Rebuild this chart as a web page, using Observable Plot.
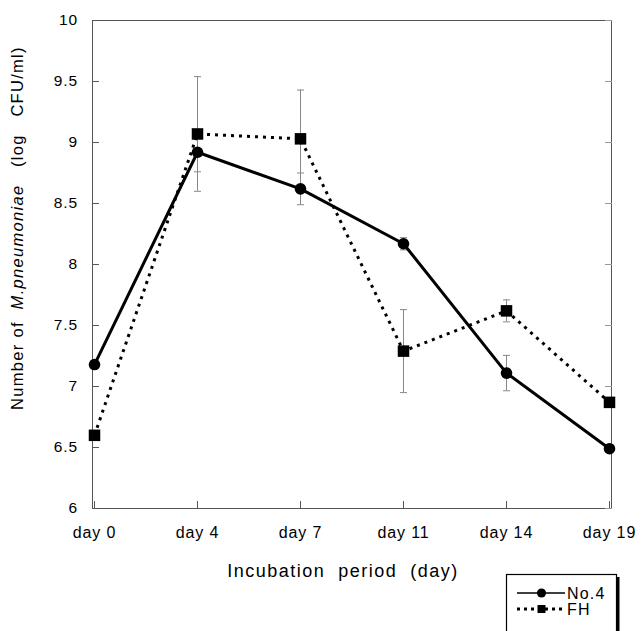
<!DOCTYPE html>
<html>
<head>
<meta charset="utf-8">
<script src="https://cdn.jsdelivr.net/npm/d3@7"></script>
<script src="https://cdn.jsdelivr.net/npm/@observablehq/plot@0.6"></script>
<style>
  html, body { margin: 0; padding: 0; background: #fff; }
  #chart svg { display: block; }
</style>
</head>
<body>
<div id="chart"></div>
<script>
// ---- data ----
const days = ["day 0", "day 4", "day 7", "day 11", "day 14", "day 19"];
const no4Values = [7.18, 8.92, 8.62, 8.17, 7.11, 6.49];
const no4Errors = [0, 0.16, 0.13, 0.05, 0.145, 0];
const fhValues = [6.60, 9.07, 9.03, 7.29, 7.62, 6.87];
const fhErrors = [0, 0.47, 0.40, 0.34, 0.09, 0];
const yTicks = [6, 6.5, 7, 7.5, 8, 8.5, 9, 9.5, 10];
const seriesNames = ["No.4", "FH"];
const xTitle = "Incubation  period  (day)";
const yTitleParts = [["Number of  ", "normal"], ["M.pneumoniae", "italic"], ["   (log   CFU/ml)", "normal"]];

const no4 = days.map((d, i) => ({day: d, v: no4Values[i], e: no4Errors[i]}));
const fh = days.map((d, i) => ({day: d, v: fhValues[i], e: fhErrors[i]}));
const errs = [...no4, ...fh].filter(d => d.e > 0);

const capSymbol = {draw(ctx) { ctx.moveTo(-3.5, 0); ctx.lineTo(3.5, 0); }};
const font = "Liberation Sans, Arial, Helvetica, sans-serif";

const plot = Plot.plot({
  width: 641,
  height: 631,
  marginLeft: 92,
  marginRight: 30,
  marginTop: 20,
  marginBottom: 123,
  style: {fontFamily: font, fontSize: "15px", color: "black", background: "white"},
  x: {type: "point", domain: days, padding: 0},
  y: {domain: [6, 10]},
  marks: [
    Plot.frame({stroke: "#555"}),
    Plot.axisY({ticks: yTicks, tickSize: -7, tickPadding: 21.5, tickFormat: d => String(d), label: null, stroke: "#555", fontSize: 15.5}),
    Plot.axisY({anchor: "right", ticks: yTicks, tickSize: -7, tickFormat: () => "", label: null, stroke: "#999"}),
    Plot.axisX({ticks: days, tickSize: -7, tickPadding: 25, label: null, stroke: "#555", fontSize: 16}),
    Plot.ruleX(errs, {x: "day", y1: d => d.v - d.e, y2: d => d.v + d.e, stroke: "#888", strokeWidth: 1}),
    Plot.dot(errs, {x: "day", y: d => d.v - d.e, symbol: capSymbol, stroke: "#888", fill: "none", strokeWidth: 1}),
    Plot.dot(errs, {x: "day", y: d => d.v + d.e, symbol: capSymbol, stroke: "#888", fill: "none", strokeWidth: 1}),
    Plot.line(fh, {x: "day", y: "v", stroke: "black", strokeWidth: 3, strokeDasharray: "3,5", strokeLinecap: "butt"}),
    Plot.line(no4, {x: "day", y: "v", stroke: "black", strokeWidth: 3}),
    Plot.dot(no4, {x: "day", y: "v", r: 5.8, fill: "black", stroke: "none"}),
    Plot.dot(fh, {x: "day", y: "v", symbol: "square", r: 6.5, fill: "black", stroke: "none"})
  ]
});

const svg = d3.select(plot);

// tick label typography (wider, like the reference)
svg.selectAll('g[aria-label="x-axis tick label"]').attr("font-size", 16).style("letter-spacing", "0.9px");
svg.selectAll('g[aria-label="y-axis tick label"]').attr("font-size", 15.5).style("letter-spacing", "0.9px");

// y title (mixed italic)
const yt = svg.append("text")
  .attr("transform", "translate(17,228) rotate(-90)")
  .attr("text-anchor", "middle")
  .attr("dominant-baseline", "central")
  .style("white-space", "pre")
  .attr("font-family", font)
  .attr("font-size", 16.5)
  .attr("letter-spacing", 1.3)
  .attr("fill", "black");
yTitleParts.forEach(([t, s]) => yt.append("tspan").attr("font-style", s).text(t));

// x title
svg.append("text")
  .attr("x", 343).attr("y", 571)
  .attr("text-anchor", "middle")
  .attr("dominant-baseline", "central")
  .style("white-space", "pre")
  .attr("font-family", font)
  .attr("font-size", 18)
  .attr("letter-spacing", 1.5)
  .attr("fill", "black")
  .text(xTitle);

// legend box
const lg = svg.append("g").attr("font-family", font).attr("font-size", 16).attr("text-anchor", "start");
lg.append("rect").attr("x", 617).attr("y", 577).attr("width", 2.5).attr("height", 60).attr("fill", "black");
lg.append("rect").attr("x", 506.5).attr("y", 574.5).attr("width", 110).attr("height", 70)
  .attr("fill", "white").attr("stroke", "black").attr("stroke-width", 1.2);
const rows = [
  {name: seriesNames[0], y: 593, dash: null, sym: d3.symbolCircle, size: 66},
  {name: seriesNames[1], y: 609, dash: "3,4", sym: d3.symbolSquare, size: 64}
];
rows.forEach(r => {
  lg.append("line").attr("x1", 517).attr("x2", 565).attr("y1", r.y).attr("y2", r.y)
    .attr("stroke", "black").attr("stroke-width", r.dash ? 3 : 1.5)
    .attr("stroke-dasharray", r.dash);
  lg.append("path").attr("d", d3.symbol(r.sym, r.size)()).attr("transform", `translate(541.5,${r.y})`).attr("fill", "black");
  lg.append("text").attr("x", 567).attr("y", r.y).attr("dominant-baseline", "central")
    .attr("text-anchor", "start").attr("letter-spacing", 1.2).attr("fill", "black").text(r.name);
});

document.getElementById("chart").appendChild(plot);
</script>
</body>
</html>
